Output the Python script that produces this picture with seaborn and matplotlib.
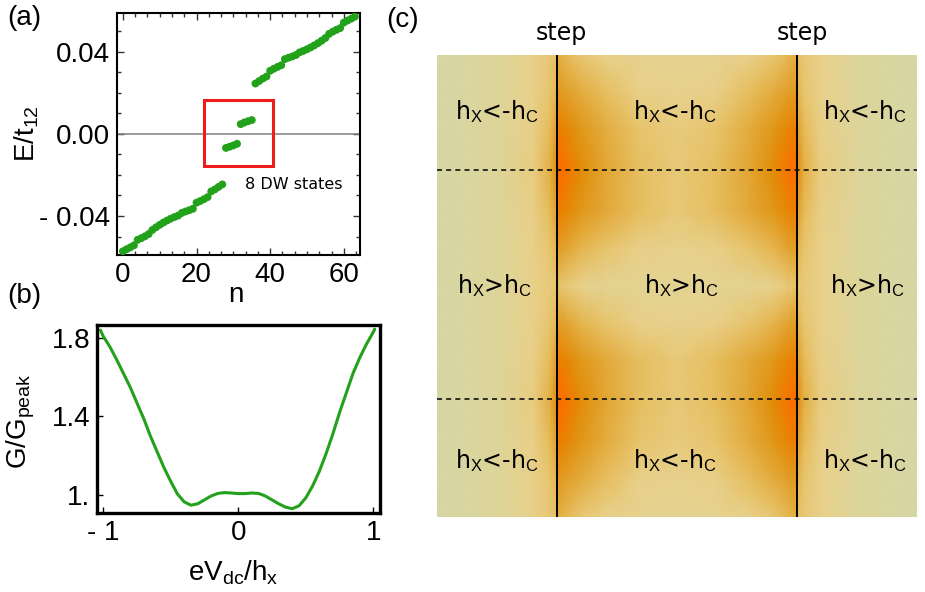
import numpy as np
import pandas as pd
import seaborn as sns
import matplotlib
matplotlib.use("Agg")
import matplotlib.pyplot as plt
from matplotlib.colors import LinearSegmentedColormap
from matplotlib.ticker import MultipleLocator, AutoMinorLocator

# ---- (a) eigen-energies vs state index ----
n_index = list(range(64))
energy = [
    -0.0572, -0.0562, -0.0553, -0.0543, -0.0516, -0.0508, -0.0499, -0.0488,
    -0.0468, -0.0455, -0.0443, -0.0432, -0.0422, -0.0413, -0.0405, -0.0398,
    -0.0385, -0.0378, -0.0372, -0.0365, -0.0335, -0.0327, -0.0318, -0.0308,
    -0.0280, -0.0270, -0.0258, -0.0246, -0.0068, -0.0062, -0.0056, -0.0048,
    0.0048, 0.0056, 0.0062, 0.0068, 0.0246, 0.0258, 0.0270, 0.0280,
    0.0308, 0.0318, 0.0327, 0.0335, 0.0365, 0.0372, 0.0378, 0.0385,
    0.0398, 0.0405, 0.0413, 0.0422, 0.0432, 0.0443, 0.0455, 0.0468,
    0.0488, 0.0499, 0.0508, 0.0516, 0.0543, 0.0553, 0.0562, 0.0572,
]

# ---- (b) conductance vs bias ----
bias = [-1.02, -1.00, -0.95, -0.90, -0.85, -0.80, -0.75, -0.70, -0.65, -0.60,
        -0.55, -0.50, -0.45, -0.40, -0.35, -0.30, -0.25, -0.20, -0.15, -0.10,
        -0.05, 0.00, 0.05, 0.10, 0.15, 0.20, 0.25, 0.30, 0.35, 0.40,
        0.45, 0.50, 0.55, 0.60, 0.65, 0.70, 0.75, 0.80, 0.85, 0.90,
        0.95, 1.00, 1.01]
conductance = [1.84, 1.81, 1.755, 1.69, 1.62, 1.55, 1.47, 1.39, 1.30, 1.22,
               1.14, 1.07, 1.005, 0.965, 0.948, 0.955, 0.975, 0.995, 1.008, 1.012,
               1.010, 1.007, 1.007, 1.010, 1.008, 0.995, 0.975, 0.955, 0.938, 0.930,
               0.945, 0.985, 1.045, 1.12, 1.21, 1.31, 1.42, 1.52, 1.62, 1.70,
               1.77, 1.83, 1.845]

# ---- (c) map (normalised coordinates, steps at 0.25 / 0.75) ----
map_x = [0.0, 0.12, 0.2, 0.235, 0.249, 0.251, 0.27, 0.3, 0.35, 0.42, 0.5,
         0.58, 0.65, 0.7, 0.73, 0.749, 0.751, 0.765, 0.8, 0.88, 1.0]
map_y = [0.0, 0.08, 0.16, 0.25, 0.34, 0.42, 0.5, 0.58, 0.66, 0.75, 0.84, 0.92, 1.0]
map_vals = [
    [0.00, 0.10, 0.20, 0.27, 0.32, 0.45, 0.38, 0.28, 0.20, 0.17, 0.17, 0.17, 0.20, 0.28, 0.38, 0.45, 0.32, 0.27, 0.20, 0.10, 0.00],
    [0.00, 0.10, 0.20, 0.29, 0.40, 0.60, 0.54, 0.46, 0.34, 0.21, 0.18, 0.21, 0.34, 0.46, 0.54, 0.60, 0.40, 0.29, 0.20, 0.10, 0.00],
    [0.00, 0.10, 0.21, 0.36, 0.56, 0.84, 0.76, 0.62, 0.46, 0.30, 0.24, 0.30, 0.46, 0.62, 0.76, 0.84, 0.56, 0.36, 0.21, 0.10, 0.00],
    [0.00, 0.10, 0.23, 0.44, 0.72, 1.00, 0.92, 0.72, 0.50, 0.34, 0.26, 0.34, 0.50, 0.72, 0.92, 1.00, 0.72, 0.44, 0.23, 0.10, 0.00],
    [0.00, 0.10, 0.21, 0.36, 0.56, 0.84, 0.76, 0.62, 0.48, 0.34, 0.26, 0.34, 0.48, 0.62, 0.76, 0.84, 0.56, 0.36, 0.21, 0.10, 0.00],
    [0.00, 0.10, 0.20, 0.29, 0.40, 0.57, 0.50, 0.40, 0.30, 0.21, 0.18, 0.21, 0.30, 0.40, 0.50, 0.57, 0.40, 0.29, 0.20, 0.10, 0.00],
    [0.00, 0.10, 0.20, 0.25, 0.29, 0.32, 0.26, 0.19, 0.16, 0.15, 0.15, 0.15, 0.16, 0.19, 0.26, 0.32, 0.29, 0.25, 0.20, 0.10, 0.00],
    [0.00, 0.10, 0.20, 0.29, 0.40, 0.57, 0.50, 0.40, 0.30, 0.21, 0.18, 0.21, 0.30, 0.40, 0.50, 0.57, 0.40, 0.29, 0.20, 0.10, 0.00],
    [0.00, 0.10, 0.21, 0.36, 0.56, 0.84, 0.76, 0.62, 0.48, 0.34, 0.26, 0.34, 0.48, 0.62, 0.76, 0.84, 0.56, 0.36, 0.21, 0.10, 0.00],
    [0.00, 0.10, 0.23, 0.44, 0.72, 1.00, 0.92, 0.72, 0.50, 0.34, 0.26, 0.34, 0.50, 0.72, 0.92, 1.00, 0.72, 0.44, 0.23, 0.10, 0.00],
    [0.00, 0.10, 0.21, 0.36, 0.56, 0.84, 0.76, 0.62, 0.46, 0.30, 0.24, 0.30, 0.46, 0.62, 0.76, 0.84, 0.56, 0.36, 0.21, 0.10, 0.00],
    [0.00, 0.10, 0.20, 0.29, 0.40, 0.60, 0.54, 0.46, 0.34, 0.21, 0.18, 0.21, 0.34, 0.46, 0.54, 0.60, 0.40, 0.29, 0.20, 0.10, 0.00],
    [0.00, 0.10, 0.20, 0.27, 0.32, 0.45, 0.38, 0.28, 0.20, 0.17, 0.17, 0.17, 0.20, 0.28, 0.38, 0.45, 0.32, 0.27, 0.20, 0.10, 0.00],
]
step_x = [0.25, 0.75]
dash_y = [0.249, 0.745]
region_labels = [
    (0.125, 0.123, r"h$_\mathrm{X}$<-h$_\mathrm{C}$"), (0.496, 0.123, r"h$_\mathrm{X}$<-h$_\mathrm{C}$"), (0.892, 0.123, r"h$_\mathrm{X}$<-h$_\mathrm{C}$"),
    (0.121, 0.498, r"h$_\mathrm{X}$>h$_\mathrm{C}$"), (0.510, 0.498, r"h$_\mathrm{X}$>h$_\mathrm{C}$"), (0.898, 0.498, r"h$_\mathrm{X}$>h$_\mathrm{C}$"),
    (0.125, 0.877, r"h$_\mathrm{X}$<-h$_\mathrm{C}$"), (0.496, 0.877, r"h$_\mathrm{X}$<-h$_\mathrm{C}$"), (0.892, 0.877, r"h$_\mathrm{X}$<-h$_\mathrm{C}$"),
]

sns.set_theme(style="ticks")
plt.rcParams["font.family"] = ["Liberation Sans", "DejaVu Sans"]
plt.rcParams["mathtext.fontset"] = "custom"
plt.rcParams["mathtext.rm"] = "Liberation Sans"
plt.rcParams["mathtext.it"] = "Liberation Sans"
plt.rcParams["mathtext.bf"] = "Liberation Sans:bold"
for key in ["text.color", "axes.labelcolor", "xtick.color", "ytick.color",
            "xtick.labelcolor", "ytick.labelcolor"]:
    plt.rcParams[key] = "black"

green = "#22a11a"
fs = 20

fig = plt.figure(figsize=(9.25, 5.92), dpi=100)
ax_a = fig.add_axes([0.1265, 0.5693, 0.2627, 0.4088])
ax_b = fig.add_axes([0.1049, 0.1334, 0.306, 0.3176])
ax_c = fig.add_axes([0.4724, 0.1267, 0.519, 0.7804])

# ---------- (a) ----------
df_a = pd.DataFrame({"n": n_index, "E": energy})
ax_a.axhline(0, color="#808080", lw=1.1, zorder=1)
sns.scatterplot(data=df_a, x="n", y="E", ax=ax_a, color=green, s=32,
                edgecolor="none", zorder=3, legend=False)
ax_a.set_xlim(-1.6, 64.4)
ax_a.set_ylim(-0.059, 0.059)
ax_a.set_xticks([0, 20, 40, 60], labels=["0", "20", "40", "60"])
ax_a.set_yticks([-0.04, 0.0, 0.04], labels=["- 0.04", "0.00", "0.04"])
ax_a.xaxis.set_minor_locator(AutoMinorLocator(6))
ax_a.yaxis.set_minor_locator(MultipleLocator(0.01))
ax_a.tick_params(which="both", direction="in", top=True, right=True,
                 labelsize=fs, width=1.0, color="#333333")
ax_a.tick_params(which="major", length=5, pad=5)
ax_a.tick_params(which="minor", length=3)
for s in ax_a.spines.values():
    s.set_linewidth(1.5)
    s.set_color("black")
ax_a.set_xlabel("n", fontsize=fs)
ax_a.set_ylabel(r"E/t$_{12}$", fontsize=fs)
ax_a.xaxis.set_label_coords(0.49, -0.165)
ax_a.yaxis.set_label_coords(-0.37, 0.5)
ax_a.xaxis.label.set_va("center")
ax_a.yaxis.label.set_va("center")
ax_a.add_patch(plt.Rectangle((22, -0.0156), 18.9, 0.0322, fill=False,
                             edgecolor="#ee1c1c", lw=2.2, zorder=4))
ax_a.text(46.5, -0.0244, "8 DW states", fontsize=11.5, family="DejaVu Sans",
          ha="center", va="center")

# ---------- (b) ----------
df_b = pd.DataFrame({"V": bias, "G": conductance})
sns.lineplot(data=df_b, x="V", y="G", ax=ax_b, color=green, lw=2.2)
ax_b.set_xlim(-1.045, 1.05)
ax_b.set_ylim(0.908, 1.866)
ax_b.set_xticks([-1, 0, 1], labels=["- 1", "0", "1"])
ax_b.set_yticks([1.0, 1.4, 1.8], labels=["1.", "1.4", "1.8"])
ax_b.tick_params(direction="in", labelsize=fs, length=4, width=1.0, pad=5)
for s in ax_b.spines.values():
    s.set_linewidth(2.4)
    s.set_color("black")
ax_b.set_xlabel(r"eV$_\mathrm{dc}$/h$_\mathrm{x}$", fontsize=fs)
ax_b.set_ylabel(r"G/G$_\mathrm{peak}$", fontsize=fs)
ax_b.xaxis.set_label_coords(0.48, -0.32)
ax_b.yaxis.set_label_coords(-0.27, 0.49)
ax_b.xaxis.label.set_va("center")
ax_b.yaxis.label.set_va("center")

# ---------- (c) ----------
cmap = LinearSegmentedColormap.from_list("stepmap", [
    (0.00, "#d6d7a5"), (0.10, "#ddd59a"), (0.20, "#e8d08a"), (0.35, "#e6bd5c"),
    (0.50, "#e2a533"), (0.70, "#de8f08"), (0.85, "#f07c00"), (1.00, "#ff6c00")])
ax_c.pcolormesh(map_x, map_y, np.array(map_vals), shading="gouraud",
                cmap=cmap, vmin=0, vmax=1)
ax_c.set_xlim(0, 1)
ax_c.set_ylim(1, 0)
for xv in step_x:
    ax_c.axvline(xv, color="black", lw=1.4)
    ax_c.text(xv + 0.01, -0.048, "step", fontsize=17, family="DejaVu Sans",
              ha="center", va="center")
for yv in dash_y:
    ax_c.axhline(yv, color="#111111", lw=1.2, ls=(0, (3, 2.5)))
for xv, yv, lab in region_labels:
    ax_c.text(xv, yv, lab, fontsize=17, family="DejaVu Sans",
              ha="center", va="center")
ax_c.set_axis_off()

fig.text(24 / 925, 1 - 18 / 592, "(a)", fontsize=fs, ha="center", va="center")
fig.text(24 / 925, 1 - 296 / 592, "(b)", fontsize=fs, ha="center", va="center")
fig.text(403 / 925, 1 - 20 / 592, "(c)", fontsize=fs, ha="center", va="center")

fig.savefig("out.png", dpi=100)
